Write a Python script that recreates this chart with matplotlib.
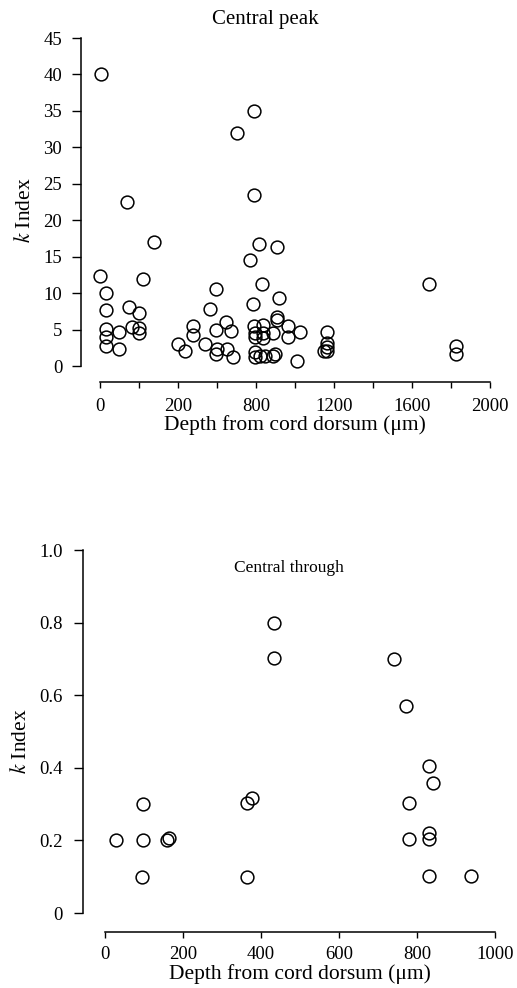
import matplotlib
matplotlib.use("Agg")
import matplotlib.pyplot as plt

plt.rcParams.update({
    "font.family": ["Liberation Serif", "DejaVu Serif"],
    "mathtext.fontset": "stix",
    "font.size": 13.5,
    "axes.linewidth": 1.1,
})

# 上图：Central peak
peak_depth = [5, 0, 29, 29, 29, 29, 29, 98, 98, 139, 149, 166, 200, 200, 200,
              219, 276, 399, 434, 475, 475, 538, 565, 595, 595, 600, 595, 648,
              672, 651, 682, 704, 771, 783, 792, 788, 815, 906, 833, 1689, 917,
              908, 908, 788, 836, 963, 797, 797, 836, 836, 888, 963, 1025,
              1162, 1162, 1162, 1148, 1162, 1825, 1825, 797, 797, 822, 848,
              888, 900, 1008]
peak_k = [40.0, 12.3, 10.0, 7.7, 5.1, 4.0, 2.8, 4.6, 2.3, 22.5, 8.1, 5.4, 7.3,
          5.2, 4.5, 12.0, 17.0, 3.0, 2.0, 5.5, 4.3, 3.0, 7.8, 10.6, 4.9, 2.3,
          1.6, 6.1, 4.8, 2.3, 1.3, 32.0, 14.6, 8.5, 23.5, 35.0, 16.7, 16.3,
          11.3, 11.2, 9.3, 6.7, 6.3, 5.5, 5.6, 5.5, 4.5, 4.0, 4.5, 3.8, 4.5,
          4.0, 4.6, 4.7, 3.1, 2.6, 2.1, 2.1, 2.8, 1.6, 1.9, 1.3, 1.4, 1.4, 1.4,
          1.6, 0.7]
peak_xticks = [0, 200, 400, 600, 800, 1000, 1200, 1400, 1600, 1800, 2000]
peak_xlabels = ["0", "", "200", "", "800", "", "1200", "", "1600", "", "2000"]
peak_yticks = [0, 5, 10, 15, 20, 25, 30, 35, 40, 45]

# 下图：Central through
trough_depth = [28, 98, 98, 94, 158, 165, 363, 376, 364, 433, 433, 742, 771,
                830, 840, 779, 779, 831, 831, 831, 939]
trough_k = [0.2, 0.3, 0.2, 0.1, 0.2, 0.207, 0.302, 0.318, 0.1, 0.8, 0.703,
            0.7, 0.57, 0.405, 0.357, 0.304, 0.205, 0.22, 0.203, 0.103, 0.103]
trough_xticks = [0, 200, 400, 600, 800, 1000]
trough_yticks = [0, 0.2, 0.4, 0.6, 0.8, 1.0]
trough_ylabels = ["0", "0.2", "0.4", "0.6", "0.8", "1.0"]

W, H = 517, 988
fig = plt.figure(figsize=(W / 100, H / 100), dpi=100)


def box(l, t, r, b):
    return [l / W, (H - b) / H, (r - l) / W, (b - t) / H]


def style(ax):
    for s in ("top", "right"):
        ax.spines[s].set_visible(False)
    ax.tick_params(axis="y", length=6.5, width=1.0, pad=7, labelsize=13.5)
    ax.tick_params(axis="x", length=4.3, width=1.0, pad=7, labelsize=13.5)


mk = dict(ls="none", marker="o", ms=9.2, mfc="none", mec="black", mew=1.1)

ax1 = fig.add_axes(box(81, 38, 490, 382))
ax1.plot(peak_depth, peak_k, **mk, clip_on=False)
ax1.set_xlim(-97.4, 2000)
ax1.set_ylim(-2.195, 45)
ax1.spines["left"].set_bounds(0, 45)
ax1.spines["bottom"].set_bounds(0, 2000)
ax1.set_xticks(peak_xticks)
ax1.set_xticklabels(peak_xlabels)
ax1.set_yticks(peak_yticks)
style(ax1)
ax1.set_xlabel("Depth from cord dorsum (μm)", fontsize=15.5, labelpad=0)
ax1.set_ylabel("$k$ Index", fontsize=15.5, labelpad=6)
ax1.xaxis.set_label_coords(((100 + 490) / 2 - 81) / (490 - 81), -0.095)
ax1.text(((208 + 322) / 2 - 81) / (490 - 81), 1.055, "Central peak",
         transform=ax1.transAxes, ha="center", va="center", fontsize=15)

ax2 = fig.add_axes(box(83, 550, 495, 932))
ax2.plot(trough_depth, trough_k, **mk, clip_on=False)
ax2.set_xlim(-56.4, 1000)
ax2.set_ylim(-0.0523, 1.0)
ax2.spines["left"].set_bounds(0, 1.0)
ax2.spines["bottom"].set_bounds(0, 1000)
ax2.set_xticks(trough_xticks)
ax2.set_yticks(trough_yticks)
ax2.set_yticklabels(trough_ylabels)
style(ax2)
ax2.tick_params(axis="y", pad=8)
ax2.tick_params(axis="x", pad=6)
ax2.set_xlabel("Depth from cord dorsum (μm)", fontsize=15.5, labelpad=0)
ax2.set_ylabel("$k$ Index", fontsize=15.5, labelpad=6)
ax2.xaxis.set_label_coords(((105 + 495) / 2 - 83) / (495 - 83), -0.085)
ax2.text((289 - 83) / (495 - 83), 0.952, "Central through",
         transform=ax2.transAxes, ha="center", va="center", fontsize=12.5)

fig.savefig("out.png", dpi=100)
